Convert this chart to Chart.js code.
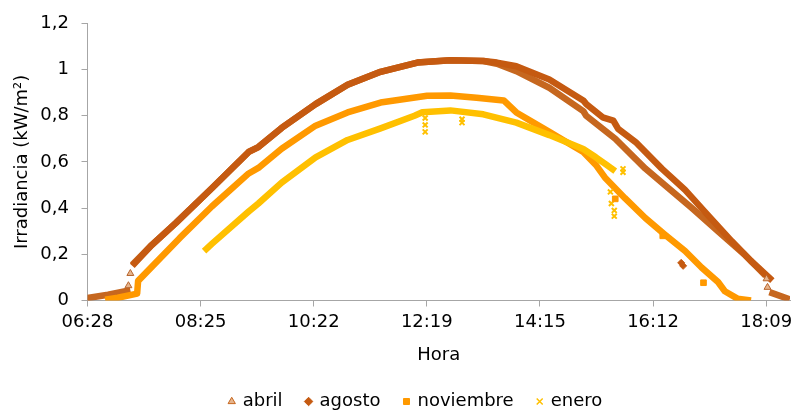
<!DOCTYPE html>
<html>
<head>
<meta charset="utf-8">
<script src="https://cdn.jsdelivr.net/npm/chart.js@4.4.1/dist/chart.umd.min.js"></script>
<style>
  html, body { margin: 0; padding: 0; background: #fff; }
  canvas { display: block; }
</style>
</head>
<body>
<canvas id="irradiancia" width="796" height="414"></canvas>
<script>
// valores (hora, kW/m2) - null corta la linea
const abrilHora = ['06:28','06:50','07:13','07:14','07:15','07:35','08:00','08:37','09:15','09:25','09:49','10:24','10:57','11:31','12:09','12:43','13:17','13:31','13:51','14:25','15:00','15:03','15:33','16:04','16:24','16:52','17:19','17:46','18:08','18:10','18:12','18:33'];
const abrilIrr = [0.010,0.025,0.045,null,0.155,0.240,0.336,0.486,0.643,0.664,0.747,0.850,0.934,0.990,1.030,1.040,1.037,1.025,0.993,0.921,0.820,0.800,0.700,0.571,0.500,0.400,0.300,0.200,0.107,null,0.036,0.005];
const abrilSueltosHora = ['07:11','07:13','18:09','18:10'];
const abrilSueltosIrr = [0.064,0.117,0.094,0.057];

const agostoHora = ['07:15','07:35','08:00','08:37','09:15','09:25','09:49','10:24','10:57','11:31','12:09','12:43','13:17','13:31','13:51','14:25','15:00','15:03','15:20','15:31','15:36','15:54','16:21','16:45','17:05','17:33','17:53','18:15'];
const agostoIrr = [0.150,0.240,0.336,0.486,0.643,0.664,0.747,0.850,0.934,0.990,1.030,1.040,1.037,1.030,1.014,0.957,0.866,0.851,0.793,0.779,0.743,0.686,0.571,0.479,0.386,0.257,0.171,0.086];
const agostoSueltosHora = ['16:41','16:43'];
const agostoSueltosIrr = [0.163,0.150];

const noviembreHora = ['06:47','07:00','07:20','07:21','08:04','08:37','09:15','09:25','09:49','10:24','10:57','11:31','12:19','12:43','13:10','13:38','13:51','14:25','15:00','15:13','15:23','15:43','16:04','16:24','16:45','17:02','17:19','17:26','17:39','17:53'];
const noviembreIrr = [0.003,0.012,0.030,0.085,0.271,0.407,0.550,0.574,0.657,0.757,0.814,0.857,0.886,0.887,0.878,0.866,0.814,0.730,0.643,0.587,0.529,0.443,0.357,0.286,0.214,0.143,0.080,0.040,0.008,0.000];
const noviembreSueltosHora = ['15:33','16:22','17:04'];
const noviembreSueltosIrr = [0.440,0.280,0.077];

const eneroHora = ['08:29','08:37','09:15','09:25','09:49','10:24','10:57','11:31','12:06','12:14','12:43','13:17','13:51','14:25','15:00','15:13','15:23','15:33'];
const eneroIrr = [0.214,0.245,0.385,0.420,0.510,0.620,0.695,0.745,0.800,0.815,0.823,0.806,0.770,0.716,0.656,0.620,0.590,0.560];
const eneroSueltosHora = ['12:17','12:17','12:17','12:55','12:55','15:28','15:29','15:32','15:32','15:41','15:41'];
const eneroSueltosIrr = [0.790,0.760,0.730,0.785,0.770,0.470,0.420,0.390,0.365,0.570,0.555];

const horasEje = ['06:28','08:25','10:22','12:19','14:15','16:12','18:09'];
const etiquetasY = ['0','0,2','0,4','0,6','0,8','1','1,2'];

// eje x en minutos del dia (Excel: min 0,27 dias, paso 0,081 dias)
const ejeXInicio = 388.8;
const ejeXPaso = 116.64;
const ejeXFin = 1113.2;

const aMinutos = h => { const p = h.split(':'); return +p[0] * 60 + +p[1]; };
const puntos = (horas, valores) => horas.map((h, i) => ({ x: aMinutos(h), y: valores[i] }));

const gris = '#a6a6a6';
const fuente = { family: 'DejaVu Sans', size: 18 };
Chart.defaults.font.family = 'DejaVu Sans';
Chart.defaults.font.size = 18;
Chart.defaults.color = '#000';

const linea = (label, horas, valores, color, estilo, fondo, orden) => ({
  label: label,
  data: puntos(horas, valores),
  showLine: true,
  borderColor: color,
  borderWidth: 6.5,
  borderJoinStyle: 'round',
  pointRadius: 0,
  pointStyle: estilo,
  pointBackgroundColor: fondo,
  pointBorderColor: color,
  pointBorderWidth: estilo === 'crossRot' ? 1.5 : 1,
  order: orden
});
const sueltos = (label, horas, valores, color, estilo, fondo, radio) => ({
  label: label,
  sueltos: true,
  data: puntos(horas, valores),
  showLine: false,
  pointRadius: radio,
  pointStyle: estilo,
  pointBackgroundColor: fondo,
  pointBorderColor: color,
  pointBorderWidth: estilo === 'crossRot' ? 2 : 1,
  order: 0
});

new Chart(document.getElementById('irradiancia'), {
  type: 'scatter',
  data: {
    datasets: [
      linea('abril', abrilHora, abrilIrr, '#c6671f', 'triangle', '#e6b48c', 4),
      linea('agosto', agostoHora, agostoIrr, '#c55a11', 'rectRot', '#c55a11', 3),
      linea('noviembre', noviembreHora, noviembreIrr, '#ff9900', 'rect', '#ff9900', 2),
      linea('enero', eneroHora, eneroIrr, '#ffc000', 'crossRot', '#ffc000', 1),
      sueltos('abril', abrilSueltosHora, abrilSueltosIrr, '#b8652d', 'triangle', '#e6b48c', 4),
      sueltos('agosto', agostoSueltosHora, agostoSueltosIrr, '#c55a11', 'rectRot', '#c55a11', 3.5),
      sueltos('noviembre', noviembreSueltosHora, noviembreSueltosIrr, '#ff9900', 'rect', '#ff9900', 4),
      sueltos('enero', eneroSueltosHora, eneroSueltosIrr, '#ffc000', 'crossRot', '#ffc000', 3.5)
    ]
  },
  options: {
    responsive: false,
    animation: false,
    devicePixelRatio: 1,
    layout: { padding: { left: 36, right: 0, top: 20, bottom: -6.5 } },
    plugins: {
      tooltip: { enabled: false },
      legend: {
        position: 'bottom',
        labels: {
          font: fuente,
          color: '#000',
          usePointStyle: true,
          boxWidth: 4,
          boxHeight: 6,
          padding: 24,
          filter: (item, data) => !data.datasets[item.datasetIndex].sueltos,
          sort: (a, b) => a.datasetIndex - b.datasetIndex
        }
      }
    },
    scales: {
      x: {
        type: 'linear',
        min: ejeXInicio,
        max: ejeXFin,
        afterBuildTicks: s => { s.ticks = horasEje.map((h, i) => ({ value: ejeXInicio + i * ejeXPaso })); },
        afterFit: s => { s.height = 68; s.paddingLeft = 0; s.paddingRight = 0; },
        grid: { drawOnChartArea: false, color: gris, tickLength: 6 },
        border: { color: gris },
        ticks: { font: fuente, color: '#000', padding: 5, maxRotation: 0, autoSkip: false,
                 callback: (v, i) => horasEje[i] },
        title: { display: true, text: 'Hora', font: fuente, color: '#000', padding: { top: 0, bottom: 2.7 } }
      },
      y: {
        min: 0,
        max: 1.2,
        afterBuildTicks: s => { s.ticks = etiquetasY.map((t, i) => ({ value: i * 0.2 })); },
        afterFit: s => { s.width = 51.5; },
        grid: { drawOnChartArea: false, color: gris, tickLength: 6 },
        border: { color: gris },
        ticks: { font: fuente, color: '#000', padding: 12.5, callback: (v, i) => etiquetasY[i] },
        title: { display: true, text: 'Irradiancia (kW/m²)', font: fuente, color: '#000', padding: { top: -24.8, bottom: 0 } }
      }
    }
  }
});
</script>
</body>
</html>
